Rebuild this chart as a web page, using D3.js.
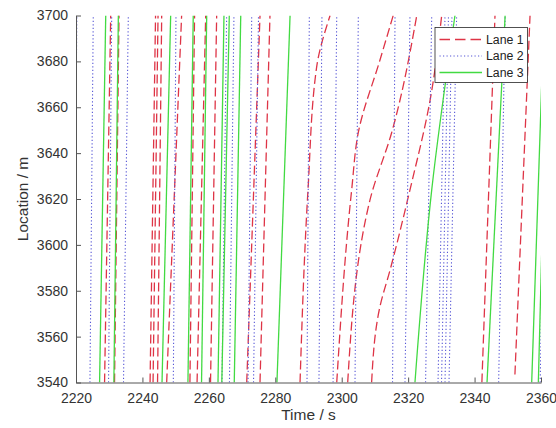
<!DOCTYPE html>
<html>
<head>
<meta charset="utf-8">
<script src="https://cdn.jsdelivr.net/npm/d3@7"></script>
<style>
  html, body { margin: 0; padding: 0; background: #fff; }
  svg { display: block; font-family: "Liberation Sans", Arial, Helvetica, sans-serif; }
</style>
</head>
<body>
<svg id="chart" width="556" height="428"></svg>
<script>
// ---- data: trajectories as [time (s), location (m)] points ----
const lane1 = [
  [[2228.6,3540],[2230.45,3700]],
  [[2231.6,3540],[2232.95,3700]],
  [[2242.3,3540],[2243.95,3700]],
  [[2243.2,3540],[2244.7,3700]],
  [[2244.55,3540],[2245.8,3700]],
  [[2247.3,3540],[2251.8,3700]],
  [[2254.3,3540],[2255.7,3700]],
  [[2256.45,3540],[2259.05,3700]],
  [[2260.5,3540],[2262.35,3700]],
  [[2271.4,3540],[2275.4,3700]],
  [[2275.4,3540],[2278.4,3700]],
  [[2287.45,3540],[2289.85,3624],[2292.45,3677.5],[2296.5,3700]],
  [[2298.5,3540],[2303.0,3624],[2305.0,3649],[2311.5,3680.5],[2315.5,3700]],
  [[2301.8,3540],[2308.5,3619.5],[2315.05,3649],[2322.6,3700]],
  [[2309.0,3540],[2311.5,3573],[2314.55,3589],[2320.55,3624],[2326.6,3663],[2330.1,3700]],
  [[2342.2,3540],[2346.15,3700]],
  [[2352.15,3543.5],[2356.7,3700]]
];
const lane2 = [
  [[2219.3,3540],[2220.25,3700]],
  [[2224.2,3540],[2225.2,3700]],
  [[2229.8,3540],[2230.75,3700]],
  [[2234.3,3540],[2235.75,3700]],
  [[2249.3,3540],[2250.1,3700]],
  [[2263.95,3540],[2265.35,3700]],
  [[2266.2,3540],[2267.55,3700]],
  [[2271.8,3540],[2272.9,3700]],
  [[2273.45,3540],[2274.95,3700]],
  [[2289.55,3540],[2290.25,3700]],
  [[2293.15,3540],[2294.05,3700]],
  [[2297.4,3540],[2298.5,3700]],
  [[2304.0,3540],[2305.0,3700]],
  [[2315.3,3540],[2316.05,3700]],
  [[2319.05,3540],[2320.55,3700]],
  [[2325.25,3540],[2327.1,3700]],
  [[2329.0,3540],[2331.1,3700]],
  [[2330.05,3540],[2332.15,3700]],
  [[2331.1,3540],[2333.2,3700]],
  [[2332.3,3540],[2334.6,3700]],
  [[2347.25,3540],[2349.2,3700]],
  [[2359.75,3540],[2361.95,3700]]
];
const lane3 = [
  [[2227.1,3540],[2228.95,3700]],
  [[2231.4,3540],[2232.75,3700]],
  [[2245.9,3540],[2248.5,3700]],
  [[2253.7,3540],[2255.3,3700]],
  [[2257.8,3540],[2259.35,3700]],
  [[2262.75,3540],[2264.55,3700]],
  [[2263.9,3540],[2266.15,3700]],
  [[2267.65,3540],[2269.6,3700]],
  [[2280.5,3540],[2284.45,3700]],
  [[2322.05,3540],[2327.1,3624],[2334.1,3700]],
  [[2343.75,3540],[2349.2,3700]],
  [[2357.2,3540],[2360.9,3700]],
  [[2359.2,3540],[2362.05,3700]]
];
const xTicks = [2220, 2240, 2260, 2280, 2300, 2320, 2340, 2360];
const yTicks = [3540, 3560, 3580, 3600, 3620, 3640, 3660, 3680, 3700];
const laneNames = ["Lane 1", "Lane 2", "Lane 3"];

// ---- drawing ----
const W = 556, H = 428;
const m = { left: 76, right: 15, top: 15.5, bottom: 45.5 };
const svg = d3.select("#chart");
const x = d3.scaleLinear().domain([2220, 2360]).range([m.left, W - m.right]);
const y = d3.scaleLinear().domain([3540, 3700]).range([H - m.bottom, m.top]);

svg.append("rect").attr("width", W).attr("height", H).attr("fill", "#fff");

svg.append("defs").append("clipPath").attr("id", "clip")
  .append("rect")
  .attr("x", x(2220)).attr("y", y(3700))
  .attr("width", x(2360) - x(2220)).attr("height", y(3540) - y(3700));

const styles = [
  { color: "#de3446", dash: "9,4", width: 1.3 },
  { color: "#5656d6", dash: "1.2,2.3", width: 1.1 },
  { color: "#42da42", dash: null, width: 1.3 }
];
const lanes = [lane1, lane2, lane3];

const line = d3.line()
  .x(d => x(d[0]))
  .y(d => y(d[1]))
  .curve(d3.curveMonotoneY);

const plot = svg.append("g").attr("clip-path", "url(#clip)");
lanes.forEach((lane, i) => {
  const s = styles[i];
  plot.append("g").selectAll("path").data(lane).join("path")
    .attr("d", line)
    .attr("fill", "none")
    .attr("stroke", s.color)
    .attr("stroke-width", s.width)
    .attr("stroke-dasharray", s.dash);
});

// axes
const axisColor = "#555";
const textColor = "#333";
const gx = svg.append("g").attr("transform", `translate(0,${y(3540)})`)
  .call(d3.axisBottom(x).tickValues(xTicks).tickFormat(d3.format("d"))
    .tickSizeInner(-5).tickSizeOuter(0).tickPadding(11));
const gy = svg.append("g").attr("transform", `translate(${x(2220)},0)`)
  .call(d3.axisLeft(y).tickValues(yTicks).tickFormat(d3.format("d"))
    .tickSizeInner(-5).tickSizeOuter(0).tickPadding(8));
[gx, gy].forEach(g => {
  g.select(".domain").attr("stroke", axisColor).attr("stroke-width", 1);
  g.selectAll(".tick line").attr("stroke", axisColor);
  g.selectAll("text").attr("fill", textColor).attr("font-size", 14)
    .attr("font-family", "'Liberation Sans', Arial, sans-serif");
});

svg.append("text")
  .attr("x", (x(2220) + x(2360)) / 2).attr("y", 420)
  .attr("text-anchor", "middle").attr("font-size", 15.5).attr("fill", textColor)
  .text("Time / s");
svg.append("text")
  .attr("transform", `translate(28,${(y(3540) + y(3700)) / 2}) rotate(-90)`)
  .attr("text-anchor", "middle").attr("font-size", 15.5).attr("fill", textColor)
  .text("Location / m");

// legend
const lg = svg.append("g");
lg.append("rect").attr("x", 435).attr("y", 27.5).attr("width", 92.5).attr("height", 55)
  .attr("fill", "#fff").attr("stroke", "#262626").attr("stroke-width", 0.8);
const rowY = [39.5, 56, 72.5];
laneNames.forEach((name, i) => {
  const s = styles[i];
  lg.append("line").attr("x1", 439.5).attr("x2", 482).attr("y1", rowY[i]).attr("y2", rowY[i])
    .attr("stroke", s.color).attr("stroke-width", s.width)
    .attr("stroke-dasharray", i === 0 ? "10.5,5" : s.dash);
  lg.append("text").attr("x", 486).attr("y", rowY[i]).attr("dy", "0.36em")
    .attr("font-size", 12.3).attr("fill", "#222").text(name);
});
</script>
</body>
</html>
